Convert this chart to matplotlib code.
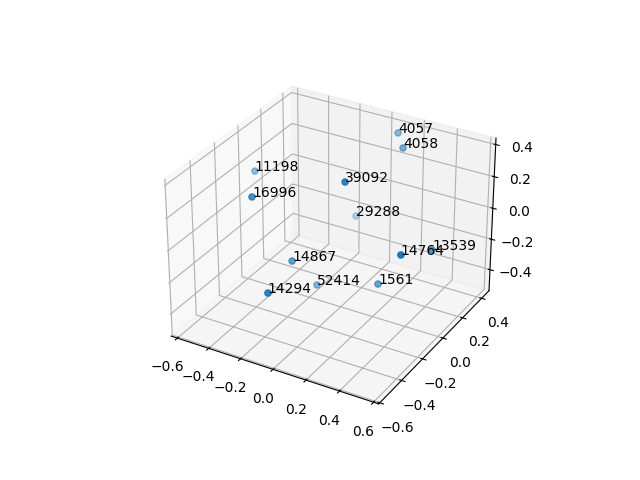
import matplotlib
matplotlib.use('Agg')
import matplotlib.pyplot as plt

labels = ['4057', '4058', '11198', '39092', '16996', '29288', '14764', '13539', '14867', '52414', '1561', '14294']
x = [0.076, 0.173, -0.561, 0.113, -0.336, -0.109, 0.502, 0.496, -0.129, -0.077, 0.279, -0.081]
y = [0.422, 0.316, 0.031, -0.133, -0.301, 0.308, -0.221, 0.092, -0.253, -0.107, -0.076, -0.530]
z = [0.357, 0.345, 0.157, 0.367, 0.245, -0.163, 0.087, -0.075, -0.123, -0.352, -0.254, -0.136]

fig = plt.figure(figsize=(6.4, 4.8), dpi=100)
ax = fig.add_subplot(projection='3d')
ax.scatter(x, y, z)
for i, label in enumerate(labels):
    ax.text(x[i], y[i], z[i], label)
ax.set_xlim(-0.64, 0.63)
ax.set_ylim(-0.61, 0.48)
ax.set_zlim(-0.54, 0.44)
fig.savefig('out.png', dpi=100)
